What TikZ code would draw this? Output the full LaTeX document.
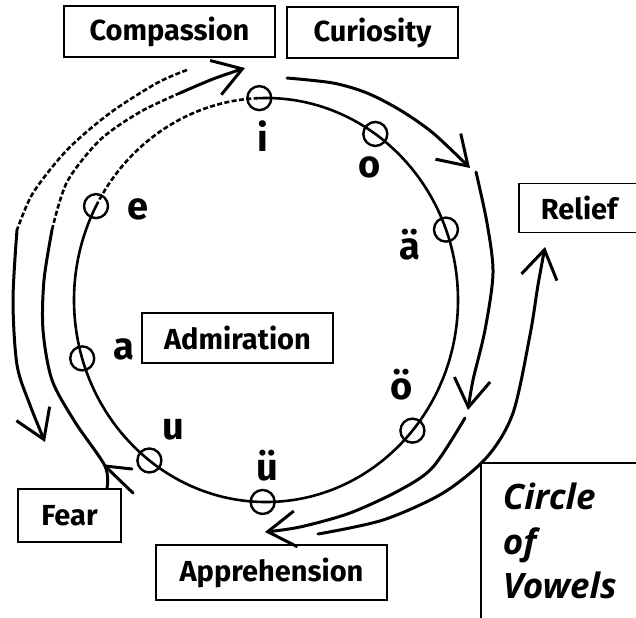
\documentclass[tikz,border=0pt]{standalone}
\usepackage{fontspec}
\setmainfont{Fira Sans}
\newfontfamily\titlefont{Open Sans}
\usetikzlibrary{arrows.meta}

\begin{document}
\begin{tikzpicture}[x=0.5pt,y=0.5pt,
  box/.style={draw,line width=0.9pt,fill=white,inner sep=0pt,minimum height=25.5pt,
    font=\bfseries\fontsize{14.5}{17}\selectfont},
  vc/.style={draw,circle,line width=1.2pt,minimum size=12pt,inner sep=0pt},
  vl/.style={inner sep=0pt,font=\bfseries\fontsize{19}{22}\selectfont},
  hand/.style={line width=1.5pt,line cap=round,line join=round},
  faint/.style={line width=1.3pt,dash pattern=on 2.5pt off 1.2pt},
  arr/.style={hand,-{Straight Barb[length=14pt,width=18pt,line width=1.5pt]}}]
\clip (0,0) rectangle (636,-617);
% ---------- vowel circle ----------
\coordinate (ctr) at (266,-300);
\draw[faint] ([shift={(152.3:192 and 202)}]ctr) arc[start angle=152.3,end angle=92,x radius=192,y radius=202];
\draw[hand,line width=1.3pt] ([shift={(92:192 and 202)}]ctr) arc[start angle=92,end angle=-207.7,x radius=192,y radius=202];
\foreach \nm/\ang in {i/92,o/55.3,ae/20.4,oe/-40.3,ue/-91,u/-127.4,a/196.8,e/152.3}
  \node[vc] (v\nm) at ([shift={(\ang:192 and 202)}]ctr) {};
\foreach \nm/\px/\py/\txt in {i/263/136/i,o/370/167/o,ae/410/245/ä,oe/402/385/ö,ue/267/466/ü,u/173/430/u,a/124/349/a,e/138/209/e}
  \node[vl] (l\nm) at (\px,-\py) {\txt};
% ---------- labels ----------
\node[box,minimum width=105.5pt] (comp) at (169.5,-31.5) {Compassion};
\node[box,minimum width=85.5pt] (curi) at (372.5,-32.5) {Curiosity};
\node[box,anchor=west,text width=60pt,align=left,inner xsep=11pt,minimum height=24.5pt] (reli) at (518,-208) {Relief};
\node[box,minimum width=95.5pt,minimum height=25pt] (admi) at (237.5,-338) {Admiration};
\node[box,minimum width=51.5pt,minimum height=26.5pt] (fear) at (69.5,-515.5) {Fear};
\node[box,minimum width=115.5pt,minimum height=27.5pt] (appr) at (271.5,-572.5) {Apprehension};
\node[draw,line width=0.9pt,fill=white,anchor=north west,text width=75pt,align=left,inner xsep=11pt,inner ysep=10pt,
  font=\titlefont\bfseries\itshape\fontsize{17.5}{22.25}\selectfont] (title) at (480,-462) {Circle\\of\\Vowels};
% ---------- left side: Compassion <-> Fear ----------
\coordinate (cf0) at (187,-70);
\coordinate (cf1) at (45,-442);
\draw[faint] plot[smooth] coordinates {(cf0) (157,-83) (110,-113) (67,-150) (33,-193) (17,-230)};
\draw[arr] plot[smooth] coordinates {(17,-230) (13,-300) (17,-365) (30,-405) (cf1)};
\coordinate (fc0) at (fear.north -| 107,0);
\coordinate (fj) at (105,-466);
\coordinate (fb1) at (132,-469);
\coordinate (fb2) at (133,-493);
\coordinate (fc1) at (245,-68);
\draw[hand] plot[smooth] coordinates {(fc0) (fj) (75,-422) (52,-380) (43,-330) (44,-280) (52,-230)};
\draw[faint] plot[smooth] coordinates {(52,-230) (67,-182) (100,-140) (140,-112) (180,-93)};
\draw[arr] plot[smooth] coordinates {(180,-93) (213,-79) (fc1)};
\draw[hand] (fj) -- (fb1);
\draw[hand] (fj) -- (fb2);
% ---------- right side: Curiosity -> Apprehension -> Relief ----------
\coordinate (cu0) at (287,-78);
\coordinate (ra1) at (470,-168);
\coordinate (ra2) at (468,-410);
\coordinate (ap1) at (265,-532);
\draw[arr] plot[smooth] coordinates {(cu0) (333,-83) (367,-93) (400,-110) (433,-133) (ra1)};
\draw[arr] plot[smooth] coordinates {(476,-172) (487,-223) (493,-273) (485,-330) (473,-380) (ra2)};
\draw[arr] plot[smooth] coordinates {(465,-418) (433,-467) (400,-490) (350,-513) (300,-527) (ap1)};
\coordinate (ap0) at (318,-534);
\coordinate (re1) at (545,-247);
\draw[arr] plot[smooth] coordinates {(ap0) (383,-520) (443,-493) (487,-457) (513,-413) (530,-335) (538,-285) (re1)};
\end{tikzpicture}
\end{document}
